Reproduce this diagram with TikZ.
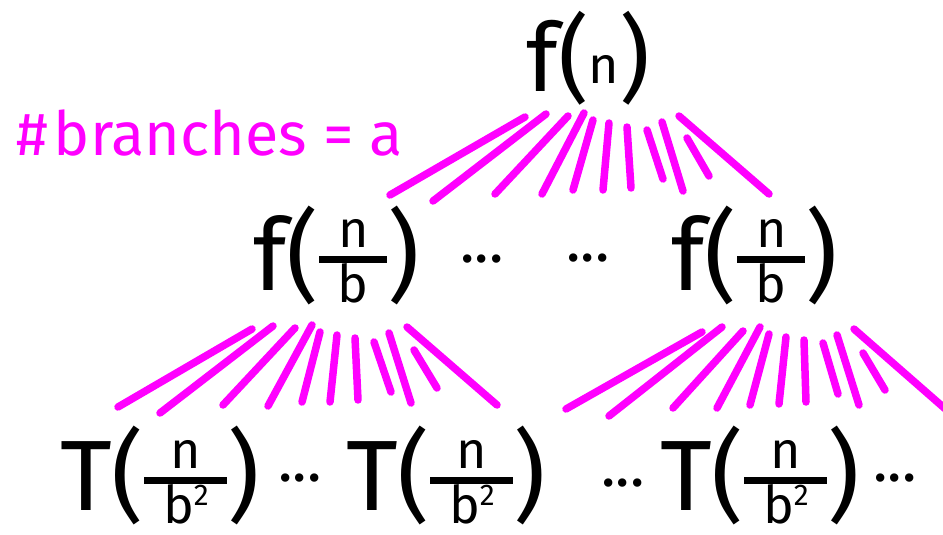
\documentclass[tikz,border=0pt]{standalone}
\usepackage{fontspec}
\usepackage{graphicx}
\setmainfont{Fira Sans}
\definecolor{mag}{HTML}{FF00FF}
\newcommand\fsz[1]{\fontsize{#1}{#1}\selectfont}
\newcommand\myfrac[3]{\raisebox{#3}{\begingroup\setlength\arrayrulewidth{7pt}\renewcommand\arraystretch{0.55}\fsz{52}\begin{tabular}[b]{@{\hskip 0.36em}c@{\hskip 0.36em}}#1\\\hline #2\end{tabular}\endgroup}}
\newcommand\sqb{b\raisebox{18pt}{\fsz{30}2}}
\tikzset{
  term/.style={inner sep=0pt, anchor=base west, text=black},
  dotsn/.style={inner sep=0pt, anchor=base west, font=\fsz{60}},
  fan/.style={draw=mag, line width=7.5pt, line cap=round},
  lbl/.style={font=\fsz{61}, text=mag, inner sep=0pt, anchor=base west},
}
\begin{document}
\begin{tikzpicture}[x=1pt,y=-1pt]
\useasboundingbox (0,0) rectangle (943,535);
% label
\node[lbl] (lab) at (16,155) {\#\hspace{6pt}branches = a};
% top
\node[term, font=\fsz{95}] (fn) at (526,92) {f(\raisebox{8pt}{\fsz{52}n})};
% second level
\node[term, font=\fsz{100}] (fl) at (253,290) {f(\myfrac{n}{b}{-12pt})};
\node[dotsn] (d1) at (460,262) {...};
\node[dotsn] (d2) at (566,261) {...};
\node[term, font=\fsz{100}] (fr) at (671,290) {f(\myfrac{n}{b}{-12pt})};
% third level
\node[term, font=\fsz{100}] (t1) at (60,510) {T(\myfrac{n}{\sqb}{-13pt})};
\node[dotsn] (d3) at (278,481) {...};
\node[term, font=\fsz{100}] (t2) at (346,510) {T(\myfrac{n}{\sqb}{-13pt})};
\node[dotsn] (d4) at (601,486) {...};
\node[term, font=\fsz{100}] (t3) at (660,510) {T(\myfrac{n}{\sqb}{-13pt})};
\node[dotsn] (d5) at (873,481) {...};
% fans
\foreach \a/\b/\c/\d in {
 525/117/390/195, 546/114/433/201, 568/116/495/194, 584/113/542/194,
 593/120/573/190, 609/123/603/190, 627/127/631/188, 647/130/663/179,
 662/122/683/191, 687/138/709/176, 679/116/769/194,
 252/329/118/407, 273/326/160/413, 295/328/223/405, 312/325/268/406,
 320/332/302/402, 337/335/330/402, 355/338/358/400, 374/342/391/392,
 389/333/411/403, 414/350/437/388, 407/327/497/405,
 702/332/566/409, 722/327/609/416, 743/331/673/408, 760/327/717/408,
 769/334/750/405, 786/337/779/404, 804/340/806/402, 823/343/838/394,
 837/335/859/405, 863/353/885/390, 854/329/950/413}
 \draw[fan] (\a,\b) -- (\c,\d);
\end{tikzpicture}
\end{document}
